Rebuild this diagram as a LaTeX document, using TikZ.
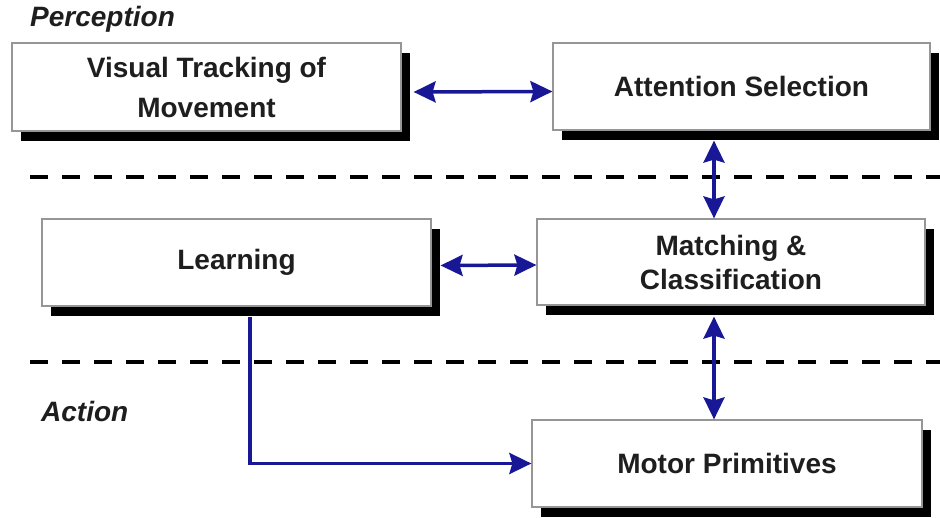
\documentclass[tikz,border=0pt]{standalone}
\usepackage{fontspec}
\setmainfont{Liberation Sans}
\usetikzlibrary{arrows.meta,shadows,calc}
\definecolor{arrowblue}{RGB}{24,24,150}
\definecolor{boxline}{RGB}{150,150,150}
\definecolor{txt}{RGB}{30,30,30}
\begin{document}
\begin{tikzpicture}[x=1pt,y=-1pt,
  blk/.style={draw=boxline,line width=1.2pt,fill=white,inner sep=0pt,align=center,
    text=txt,font=\bfseries\fontsize{28}{34}\selectfont,
    drop shadow={shadow xshift=9pt,shadow yshift=-10pt,fill=black,opacity=1}},
  lbl/.style={text=txt,font=\bfseries\itshape\fontsize{28}{34}\selectfont,inner sep=0pt},
  sep/.style={line width=4.5pt,dash pattern=on 18pt off 14pt,black},
  tip/.style={},
  conn/.style={draw=arrowblue,line width=3.5pt,
    arrows={-Stealth[length=22pt,width=21pt,inset=3pt,fill=arrowblue]}},
  biconn/.style={conn,arrows={Stealth[length=22pt,width=21pt,inset=3pt,fill=arrowblue]-Stealth[length=22pt,width=21pt,inset=3pt,fill=arrowblue]}}
]
\useasboundingbox (0,0) rectangle (940,518);
\fill[white] (0,0) rectangle (940,518);

% labels
\node[lbl,anchor=west] (perc) at (30,19) {Perception};
\node[lbl,anchor=west] (act) at (41,411) {Action};

% separators
\coordinate (s1a) at (30,177);
\coordinate (s1b) at (945,177);
\coordinate (s2a) at (30,362);
\coordinate (s2b) at (945,362);
\draw[sep] (s1a) -- (s1b);
\draw[sep] (s2a) -- (s2b);

% boxes
\node[blk,minimum width=389pt,minimum height=88pt] (vis) at (206.5,87)
  {\raisebox{-2pt}{Visual Tracking of}\\[6pt]\raisebox{-2pt}{Movement}};
\node[blk,minimum width=377pt,minimum height=87pt] (att) at (741.5,86.5)
  {Attention Selection};
\node[blk,minimum width=389pt,minimum height=87pt] (learn) at (236.5,262.5)
  {Learning};
\node[blk,minimum width=388pt,minimum height=86pt] (match) at (731,262)
  {Matching \&\\Classification};
\node[blk,minimum width=390pt,minimum height=87pt] (motor) at (727,463.5)
  {Motor Primitives};

% helper coordinates
\coordinate (vx) at (714,0);
\coordinate (lx) at (250,0);

% connectors
\draw[biconn] ([shift={(12,5)}]vis.east) -- ([yshift=-5pt]att.west);
\draw[biconn] ([yshift=-10pt]att.south -| vx) -- (match.north -| vx);
\draw[biconn] ([shift={(9,3)}]learn.east) -- ([yshift=-3pt]match.west);
\draw[biconn] ([yshift=-11pt]match.south -| vx) -- (motor.north -| vx);
\draw[conn] ([yshift=-10pt]learn.south -| lx) |- (motor.west);
\end{tikzpicture}
\end{document}
